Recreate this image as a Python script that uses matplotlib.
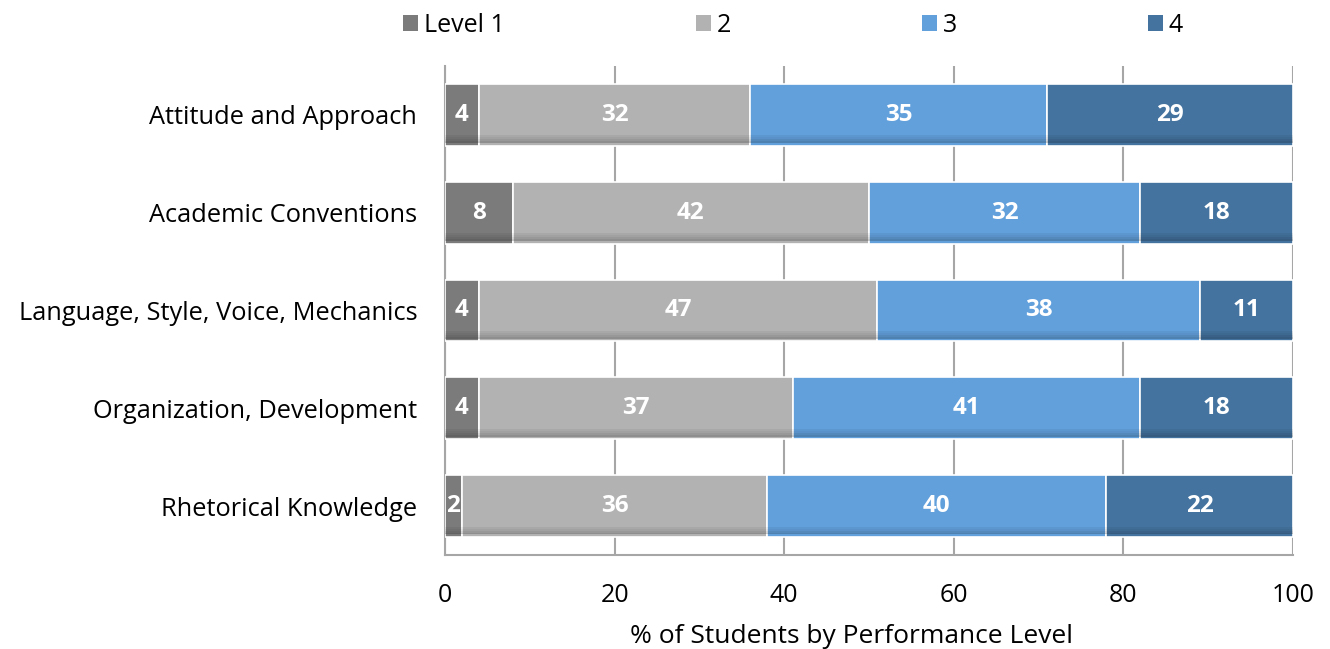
import numpy as np
import matplotlib.pyplot as plt
from matplotlib.patches import Patch

# categories from top to bottom
categories = ['Attitude and Approach', 'Academic Conventions',
              'Language, Style, Voice, Mechanics', 'Organization, Development',
              'Rhetorical Knowledge']
level1 = [4, 8, 4, 4, 2]
level2 = [32, 42, 47, 37, 36]
level3 = [35, 32, 38, 41, 40]
level4 = [29, 18, 11, 18, 22]
series_names = ['Level 1', '2', '3', '4']
colors = ['#7b7b7b', '#b2b2b2', '#62a0dc', '#44739f']

plt.rcParams['font.family'] = ['Open Sans', 'DejaVu Sans']

fig = plt.figure(figsize=(13.3, 6.49), dpi=100)
ax = fig.add_axes([445 / 1330, 1 - 555 / 649, 848 / 1330, 489 / 649])

y = np.arange(len(categories))
left = np.zeros(len(categories))
for vals, col in zip([level1, level2, level3, level4], colors):
    vals = np.array(vals, dtype=float)
    bars = ax.barh(y, vals, left=left, height=0.63, color=col,
                   edgecolor='white', linewidth=1.2, zorder=3)
    # soft darker band along the bottom edge for a bit of bevel
    for k, a in enumerate([0.05, 0.09, 0.14, 0.2]):
        ax.barh(y + 0.22 + k * 0.02, vals, left=left, height=0.02,
                color='black', alpha=a, linewidth=0, zorder=4)
    for b, v, l in zip(bars, vals, left):
        ax.text(l + v / 2, b.get_y() + b.get_height() / 2, f'{int(v)}',
                ha='center', va='center', color='white', fontsize=17.5,
                fontweight='bold', zorder=5)
    left += vals

ax.set_xlim(0, 100)
ax.set_ylim(len(categories) - 0.5, -0.5)
ax.set_xticks(np.arange(0, 101, 20))
ax.set_yticks(y)
ax.set_yticklabels(categories, fontsize=18.3)
ax.tick_params(axis='y', length=0, pad=20)
ax.tick_params(axis='x', length=0, pad=20, labelsize=18)
ax.xaxis.grid(True, color='#a6a6a6', linewidth=1.5, zorder=0)
ax.set_axisbelow(True)
for side in ['top', 'right']:
    ax.spines[side].set_visible(False)
for side in ['left', 'bottom']:
    ax.spines[side].set_color('#a6a6a6')
    ax.spines[side].set_linewidth(1.5)
ax.set_xlabel('% of Students by Performance Level', fontsize=19)
ax.xaxis.set_label_coords(0.479, -0.142)

handles = [Patch(facecolor=c, edgecolor='none') for c in colors]
fig.legend(handles, series_names, loc='lower left', ncol=4, mode='expand',
           bbox_to_anchor=(393 / 1330, 1 - 48 / 649, 800 / 1330, 0.04),
           frameon=False, fontsize=18, handlelength=0.6, handleheight=0.6,
           handletextpad=0.25, borderaxespad=0)

fig.savefig('out.png', dpi=100)
